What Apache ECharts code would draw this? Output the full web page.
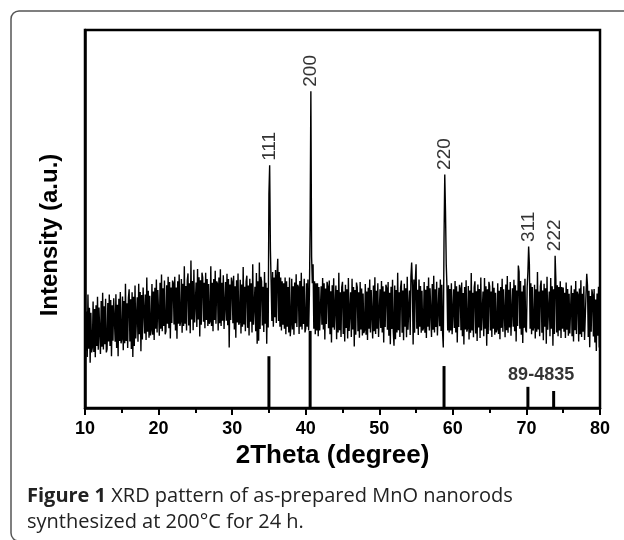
<!DOCTYPE html>
<html><head><meta charset="utf-8">
<script src="https://cdn.jsdelivr.net/npm/echarts@6/dist/echarts.min.js"></script>
<style>html,body{margin:0;padding:0;background:#fff}#c{width:624px;height:540px}</style>
</head><body><div id="c"></div><script>
// 2Theta sampling grid
const thetaStart = 10;
const thetaStep = 0.1;
// measured intensity (a.u.), one row per degree 10.0 .. 79.9, then 80.0
const intensity = [
269,152,255,135,300,157,265,120,252,147,
160,282,148,262,134,272,164,294,154,266,
267,143,283,162,305,155,269,169,289,147,
156,278,176,300,164,286,137,272,178,290,
285,175,301,159,273,137,289,177,307,171,
183,295,153,283,171,329,177,277,159,291,
314,176,288,156,306,135,294,164,324,184,
187,293,175,329,195,307,150,299,181,319,
314,197,300,180,345,202,310,186,297,192,
206,328,194,308,180,318,210,340,200,312,
315,191,331,210,353,203,317,217,337,195,
203,325,223,347,211,333,184,319,225,337,
331,221,347,205,319,183,335,223,353,217,
229,341,199,329,217,375,223,323,205,337,
356,218,330,198,390,234,336,206,366,226,
226,332,214,368,234,346,189,338,220,358,
345,228,331,211,358,233,341,217,328,223,
229,375,217,331,203,341,233,363,223,335,
329,205,345,224,367,217,331,231,351,209,
211,333,231,355,219,341,160,327,233,345,
334,224,350,208,322,186,338,226,356,220,
227,339,197,327,215,373,221,321,203,335,
350,212,324,192,342,228,330,200,380,220,
215,321,203,357,170,335,178,385,209,347,
335,218,321,201,360,223,331,170,318,213,
567,642,420,330,230,360,215,345,240,365,
225,350,395,230,360,215,345,205,335,220,
330,210,345,195,335,215,320,200,345,190,
220,342,208,322,194,332,224,354,214,326,
320,196,336,215,358,208,322,222,342,200,
210,330,215,340,205,300,485,838,400,330,
380,210,335,195,330,205,330,190,320,205,
200,322,220,344,208,330,181,316,222,334,
321,211,337,195,309,173,325,213,343,207,
212,324,182,312,200,358,206,306,188,320,
334,196,308,176,326,212,314,184,344,204,
200,306,188,342,208,320,163,312,194,332,
320,203,306,186,333,208,316,192,303,198,
206,328,194,308,180,318,210,340,200,312,
308,184,324,203,346,196,310,210,330,188,
192,314,212,336,200,322,173,308,214,326,
317,207,333,191,305,169,321,209,339,203,
165,324,182,312,200,358,206,306,188,320,
337,199,311,179,329,215,317,187,347,207,
205,311,193,347,385,325,168,340,199,337,
380,210,313,193,340,215,323,199,310,205,
211,333,199,313,185,323,215,345,205,317,
312,188,328,207,350,200,314,214,334,192,
196,318,216,340,204,326,200,160,450,618,
520,380,320,205,325,200,315,205,330,195,
192,314,212,336,200,322,173,308,214,326,
316,206,332,190,304,168,320,208,338,202,
211,323,181,311,199,357,205,305,187,319,
335,197,309,177,327,213,315,185,345,205,
202,308,190,344,210,322,165,314,196,334,
322,205,308,188,335,210,318,194,305,200,
208,330,196,310,182,320,212,342,202,314,
311,187,327,206,349,199,313,213,333,191,
195,317,215,339,203,325,176,311,217,377,
360,210,336,194,308,172,324,212,342,206,
200,320,360,427,380,210,330,195,320,205,
214,326,184,314,202,360,208,308,190,322,
337,199,311,179,329,215,317,170,347,207,
202,308,190,344,210,322,165,314,196,403,
340,200,325,190,320,205,335,185,320,210,
319,202,305,185,332,207,315,191,302,197,
202,324,190,304,176,314,206,336,196,308,
300,176,316,195,338,188,302,202,322,180,
180,302,355,324,188,310,161,296,202,314,
299,189,315,173,287,151,303,191,321,160,
230
];
// JCPDS 89-4835 reference lines
const refPositions = [35.0, 40.6, 58.8, 70.2, 73.7];
const refHeights = [137, 204, 111, 56, 45];
const cardLabel = '89-4835';
const cardLabelPos = [72, 87];
// peak indexing
const peakLabels = ['111', '200', '220', '311', '222'];
const peakPositions = [35.1, 40.7, 58.9, 70.3, 73.9];
const peakHeights = [642, 838, 618, 427, 403];
const xTicks = [10, 20, 30, 40, 50, 60, 70, 80];
const captionBold = 'Figure 1';
const captionRest = ' XRD pattern of as-prepared MnO nanorods\nsynthesized at 200\u00B0C for 24 h.';

const lineData = intensity.map((v, i) => [+(thetaStart + i * thetaStep).toFixed(2), v]);
const refData = refPositions.map((x, i) => [x, refHeights[i]]);
const peakData = peakPositions.map((x, i) => ({ value: [x, peakHeights[i]], name: peakLabels[i] }));

const FF = '"Liberation Sans", Arial, sans-serif';
const CF = '"Open Sans", "Noto Sans", sans-serif';
const chart = echarts.init(document.getElementById('c'), null, { renderer: 'canvas' });
chart.setOption({
  animation: false,
  backgroundColor: '#fff',
  graphic: [
    { type: 'rect', z: -10, shape: { x: 11, y: 11, width: 700, height: 530, r: 8 },
      style: { fill: 'none', stroke: '#555', lineWidth: 1.5 } },
    { type: 'text', left: 27, top: 483,
      style: { text: '{b|' + captionBold + '}' + captionRest,
        font: '20px ' + CF, fill: '#222', lineHeight: 26,
        rich: { b: { fontWeight: 'bold', fontSize: 20, fontFamily: CF, fill: '#222', lineHeight: 26 } } } }
  ],
  grid: { left: 85, right: 24, top: 30, bottom: 132, show: true, borderColor: '#000', borderWidth: 2.5, backgroundColor: 'transparent' },
  xAxis: {
    type: 'value', min: 10, max: 80, interval: 10,
    axisLine: { onZero: false, lineStyle: { color: '#000', width: 2.5 } },
    axisTick: { show: true, length: 7, lineStyle: { color: '#000', width: 2 } },
    minorTick: { show: true, splitNumber: 2, length: 5, lineStyle: { color: '#000', width: 2 } },
    splitLine: { show: false },
    axisLabel: { color: '#000', fontSize: 18, fontWeight: 'bold', fontFamily: FF, margin: 12,
      formatter: v => xTicks.includes(v) ? String(v) : '' },
    name: '2Theta (degree)', nameLocation: 'middle', nameGap: 35,
    nameTextStyle: { color: '#000', fontSize: 26, fontWeight: 'bold', fontFamily: FF, padding: [0, 20, 0, 0] }
  },
  yAxis: {
    type: 'value', min: 0, max: 1000,
    axisLine: { show: true, lineStyle: { color: '#000', width: 2.5 } },
    axisTick: { show: false }, axisLabel: { show: false }, splitLine: { show: false },
    name: 'Intensity (a.u.)', nameLocation: 'middle', nameGap: 23,
    nameTextStyle: { color: '#000', fontSize: 24, fontWeight: 'bold', fontFamily: FF, padding: [0, 32, 0, 0] }
  },
  series: [
    { type: 'line', data: lineData, showSymbol: false, symbol: 'none', sampling: null,
      lineStyle: { color: '#000', width: 1.4 }, z: 3 },
    { type: 'bar', data: refData, barWidth: 3, itemStyle: { color: '#000' }, z: 2 },
    { type: 'scatter', data: peakData, symbolSize: 1, itemStyle: { color: 'transparent' }, z: 4,
      label: { show: true, position: 'top', distance: 4, rotate: 90, align: 'left', verticalAlign: 'middle',
        formatter: p => p.name, color: '#000', fontSize: 19, fontFamily: FF } },
    { type: 'scatter', data: [{ value: cardLabelPos, name: cardLabel }], symbolSize: 1, itemStyle: { color: 'transparent' }, z: 4,
      label: { show: true, position: 'inside', formatter: p => p.name, color: '#000', fontSize: 18, fontWeight: 'bold', fontFamily: FF } }
  ]
});
</script></body></html>
